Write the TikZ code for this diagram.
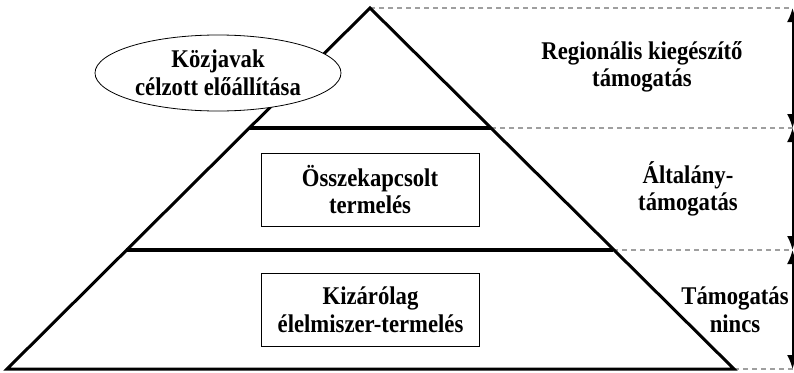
\documentclass[tikz,border=0pt]{standalone}
\usepackage{fontspec}
\setmainfont{Liberation Serif}[FakeStretch=0.89]
\usetikzlibrary{shapes.geometric}
\usetikzlibrary{arrows.meta}

\begin{document}
\begin{tikzpicture}
[x=1pt,y=-1pt,
 level/.style={line width=3pt,line cap=round,line join=miter},
 shelf/.style={line width=3.5pt},
 goal/.style={shape=ellipse,draw,fill=white,line width=0.8pt,
   minimum width=246pt,minimum height=76pt,inner sep=0pt,align=center},
 prod/.style={shape=rectangle,draw,line width=0.8pt,
   minimum width=218pt,minimum height=73pt,align=center},
 grade/.style={align=center},
 guide/.style={draw=gray!75,line width=1.4pt,dash pattern=on 5pt off 4pt},
 span/.style={line width=2pt,{Latex[length=14pt,width=11pt]}-{Latex[length=14pt,width=11pt]}},
 every node/.style={font=\bfseries\fontsize{25.5}{27.5}\selectfont}]

\useasboundingbox (0,0) rectangle (794,372);

\coordinate (apex) at (370,8);
\coordinate (bl) at (7,369);
\coordinate (br) at (734,369);
\coordinate (l1a) at (249,128);
\coordinate (l1b) at (491,128);
\coordinate (l2a) at (126,250);
\coordinate (l2b) at (613,250);
\coordinate (r0) at (792.5,8);
\coordinate (r1) at (792.5,128);
\coordinate (r2) at (792.5,250);
\coordinate (r3) at (792.5,369);

\draw [guide] (apex) -- (r0);
\draw [guide] (l1b) -- (r1);
\draw [guide] (l2b) -- (r2);
\draw [guide] (br) -- (r3);

\draw [level] (apex) -- (bl) -- (br) -- cycle;
\draw [shelf] (l1a) -- (l1b);
\draw [shelf] (l2a) -- (l2b);

\draw [span] (r0) -- (r1);
\draw [span] (r1) -- (r2);
\draw [span] (r2) -- (r3);

\node (kozjavak) [goal] at (218,73) {Közjavak\\célzott előállítása};
\node (osszekap) [prod] at (370,189.5) {Összekapcsolt\\termelés};
\node (kizarolag) [prod] at (370.5,310) {Kizárólag\\élelmiszer-termelés};

\node (regional) [grade] at (642,67) {Regionális kiegészítő\\támogatás};
\node (altalany) [grade] at (688,189) {Általány-\\támogatás};
\node (nincs) [grade] at (735,310) {Támogatás\\nincs};
\end{tikzpicture}
\end{document}
